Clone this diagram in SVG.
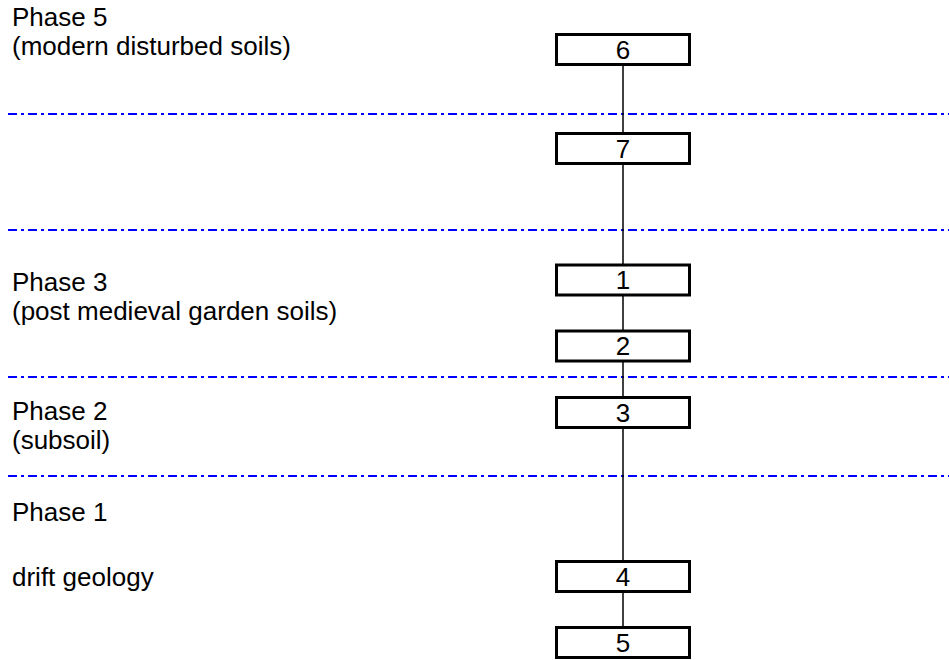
<svg xmlns="http://www.w3.org/2000/svg" width="949" height="660" viewBox="0 0 949 660">
  <style>
    .label { font-family: "Liberation Sans", Arial, sans-serif; font-size: 26px; fill: #000; }
    .num { font-family: "Liberation Sans", Arial, sans-serif; font-size: 26px; fill: #000; text-anchor: middle; }
    .box { fill: #fff; stroke: #000; stroke-width: 3; }
    .phase { stroke: #0000ff; stroke-width: 2; stroke-dasharray: 9 4 3 4; fill: none; }
    .link { stroke: #000; stroke-width: 1.5; fill: none; }
  </style>
  <rect width="949" height="660" fill="#fff"/>

  <!-- phase boundaries -->
  <g id="boundaries">
    <line class="phase" x1="8" y1="114" x2="949" y2="114"/>
    <line class="phase" x1="8" y1="230" x2="949" y2="230"/>
    <line class="phase" x1="8" y1="377" x2="949" y2="377"/>
    <line class="phase" x1="8" y1="476" x2="949" y2="476"/>
  </g>

  <!-- phase labels -->
  <g id="labels">
    <text class="label" x="12" y="26">Phase 5</text>
    <text class="label" x="12" y="55">(modern disturbed soils)</text>
    <text class="label" x="12" y="291">Phase 3</text>
    <text class="label" x="12" y="320">(post medieval garden soils)</text>
    <text class="label" x="12" y="420">Phase 2</text>
    <text class="label" x="12" y="449">(subsoil)</text>
    <text class="label" x="12" y="521">Phase 1</text>
    <text class="label" x="12" y="586">drift geology</text>
  </g>

  <!-- stratigraphic links -->
  <g id="connectors">
    <line class="link" x1="623" y1="66" x2="623" y2="132"/>
    <line class="link" x1="623" y1="165" x2="623" y2="264"/>
    <line class="link" x1="623" y1="296" x2="623" y2="330"/>
    <line class="link" x1="623" y1="362" x2="623" y2="396"/>
    <line class="link" x1="623" y1="429" x2="623" y2="560"/>
    <line class="link" x1="623" y1="593" x2="623" y2="626"/>
  </g>

  <g id="context-6">
    <rect class="box" x="556.5" y="34.5" width="133" height="30"/>
    <text class="num" x="623" y="58.8">6</text>
  </g>
  <g id="context-7">
    <rect class="box" x="556.5" y="133.5" width="133" height="30"/>
    <text class="num" x="623" y="157.8">7</text>
  </g>
  <g id="context-1">
    <rect class="box" x="556.5" y="265" width="133" height="30"/>
    <text class="num" x="623" y="289.3">1</text>
  </g>
  <g id="context-2">
    <rect class="box" x="556.5" y="331" width="133" height="30"/>
    <text class="num" x="623" y="355.3">2</text>
  </g>
  <g id="context-3">
    <rect class="box" x="556.5" y="397.5" width="133" height="30"/>
    <text class="num" x="623" y="421.8">3</text>
  </g>
  <g id="context-4">
    <rect class="box" x="556.5" y="561.5" width="133" height="30"/>
    <text class="num" x="623" y="585.8">4</text>
  </g>
  <g id="context-5">
    <rect class="box" x="556.5" y="627.5" width="133" height="30"/>
    <text class="num" x="623" y="651.8">5</text>
  </g>
</svg>
